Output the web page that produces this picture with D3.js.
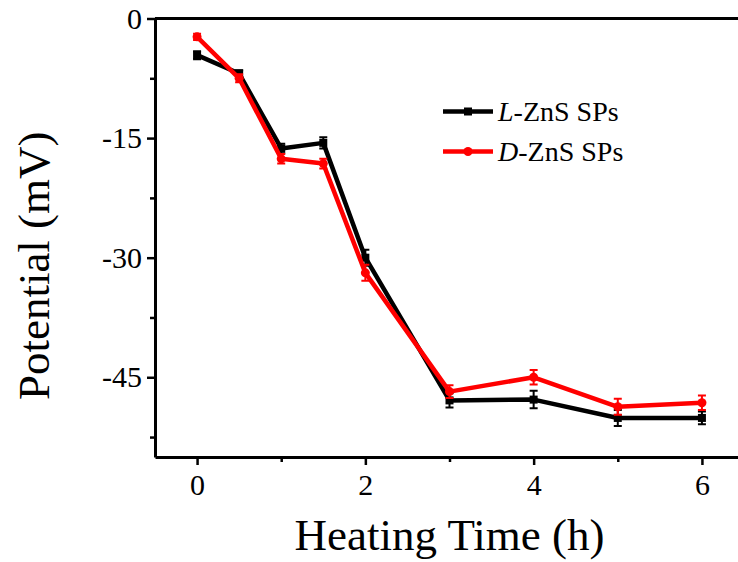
<!DOCTYPE html>
<html>
<head>
<meta charset="utf-8">
<script src="https://cdn.jsdelivr.net/npm/d3@7"></script>
<style>
body { margin: 0; background: #fff; }
text { font-family: "Liberation Serif", "Times New Roman", serif; fill: #000; }
</style>
</head>
<body>
<div id="chart"></div>
<script>
var hours = [0, 0.5, 1, 1.5, 2, 3, 4, 5, 6];
var lZnS = [-4.6, -6.9, -16.3, -15.6, -30.0, -47.9, -47.8, -50.1, -50.1];
var lErr = [0.5, 0.4, 0.6, 0.7, 1.0, 0.9, 1.1, 1.0, 0.8];
var dZnS = [-2.3, -7.5, -17.6, -18.2, -31.9, -46.8, -45.0, -48.7, -48.2];
var dErr = [0.4, 0.5, 0.6, 0.6, 1.0, 0.8, 0.9, 1.0, 0.9];
var yTicks = [0, -15, -30, -45];
var yMinor = [-7.5, -22.5, -37.5, -52.5];
var xTicks = [0, 2, 4, 6];
var xMinor = [1, 3, 5];

var margin = { top: 18.5, left: 155, bottom: 105, right: 0 },
    width = 589,
    height = 438.5;

var svg = d3.select('#chart').append('svg')
    .attr('width', 738)
    .attr('height', 562)
    .append('g')
    .attr('transform', 'translate(' + margin.left + ', ' + margin.top + ')');

var x = d3.scaleLinear().domain([-0.5, 6.5]).range([0, width]);
var y = d3.scaleLinear().domain([-55, 0]).range([height, 0]);

// frame: top line (right side is cut off)
svg.append('line')
    .attr('x1', 0).attr('x2', width)
    .attr('y1', 0).attr('y2', 0)
    .attr('stroke', '#000').attr('stroke-width', 3);

function styleAxis(g, size) {
    g.attr('font-family', null).attr('font-size', null);
    g.select('.domain').attr('stroke-width', 3);
    g.selectAll('.tick line').attr('stroke-width', 2.5);
    g.selectAll('.tick text')
        .attr('font-family', 'Liberation Serif')
        .style('font-family', '"Liberation Serif", serif')
        .style('font-size', size + 'px');
}

svg.append('g')
    .attr('transform', 'translate(0,' + height + ')')
    .call(d3.axisBottom(x).tickValues(xMinor).tickSize(5).tickFormat(''))
    .call(g => g.select('.domain').remove())
    .call(g => g.selectAll('line').attr('stroke-width', 2.5));

svg.append('g')
    .attr('transform', 'translate(0,' + height + ')')
    .call(d3.axisBottom(x).tickValues(xTicks).tickSize(8).tickSizeOuter(0).tickPadding(9).tickFormat(d => String(d)))
    .call(g => styleAxis(g, 30));

svg.append('g')
    .call(d3.axisLeft(y).tickValues(yMinor).tickSize(5).tickFormat(''))
    .call(g => g.select('.domain').remove())
    .call(g => g.selectAll('line').attr('stroke-width', 2.5));

svg.append('g')
    .call(d3.axisLeft(y).tickValues(yTicks).tickSize(8).tickSizeOuter(0).tickPadding(5).tickFormat(d => String(d)))
    .call(g => styleAxis(g, 30));

// axis titles
svg.append('text')
    .attr('x', width / 2)
    .attr('y', 531)
    .attr('text-anchor', 'middle')
    .style('font-size', '45px')
    .text('Heating Time (h)');

svg.append('text')
    .attr('transform', 'translate(' + (-106) + ',' + (height / 2 + 28) + ') rotate(-90)')
    .attr('text-anchor', 'middle')
    .style('font-size', '45px')
    .text('Potential (mV)');

var series = [
    { name: 'L', vals: lZnS, err: lErr, color: '#000', shape: 'square' },
    { name: 'D', vals: dZnS, err: dErr, color: '#ff0000', shape: 'circle' }
];

var line = d3.line().x(d => x(d.x)).y(d => y(d.y));

series.forEach(s => {
    var pts = hours.map((h, i) => ({ x: h, y: s.vals[i], e: s.err[i] }));
    var g = svg.append('g');

    g.append('path')
        .datum(pts)
        .attr('d', line)
        .attr('fill', 'none')
        .attr('stroke', s.color)
        .attr('stroke-width', 4.5)
        .attr('stroke-linejoin', 'round');

    // error bars
    g.selectAll('.err')
        .data(pts)
        .enter()
        .append('path')
        .attr('d', d => {
            var cx = x(d.x), y1 = y(d.y + d.e), y2 = y(d.y - d.e);
            return 'M' + (cx - 4) + ',' + y1 + 'H' + (cx + 4) +
                'M' + cx + ',' + y1 + 'V' + y2 +
                'M' + (cx - 4) + ',' + y2 + 'H' + (cx + 4);
        })
        .attr('stroke', s.color)
        .attr('stroke-width', 2)
        .attr('fill', 'none');

    if (s.shape == 'square') {
        g.selectAll('.mk')
            .data(pts)
            .enter()
            .append('rect')
            .attr('x', d => x(d.x) - 4)
            .attr('y', d => y(d.y) - 4)
            .attr('width', 8)
            .attr('height', 8)
            .attr('fill', s.color);
    } else {
        g.selectAll('.mk')
            .data(pts)
            .enter()
            .append('circle')
            .attr('cx', d => x(d.x))
            .attr('cy', d => y(d.y))
            .attr('r', 4.5)
            .attr('fill', s.color);
    }
});

// legend
var legend = svg.append('g').attr('transform', 'translate(288, 93)');
series.forEach((s, i) => {
    var ly = i * 40;
    legend.append('line')
        .attr('x1', 0).attr('x2', 50)
        .attr('y1', ly).attr('y2', ly)
        .attr('stroke', s.color)
        .attr('stroke-width', 4.5);
    if (s.shape == 'square') {
        legend.append('rect')
            .attr('x', 21).attr('y', ly - 4)
            .attr('width', 8).attr('height', 8)
            .attr('fill', s.color);
    } else {
        legend.append('circle')
            .attr('cx', 25).attr('cy', ly)
            .attr('r', 4.5)
            .attr('fill', s.color);
    }
    var t = legend.append('text')
        .attr('x', 55)
        .attr('y', ly + 9)
        .style('font-size', '28px');
    t.append('tspan').style('font-style', 'italic').text(s.name);
    t.append('tspan').text('-ZnS SPs');
});
</script>
</body>
</html>
